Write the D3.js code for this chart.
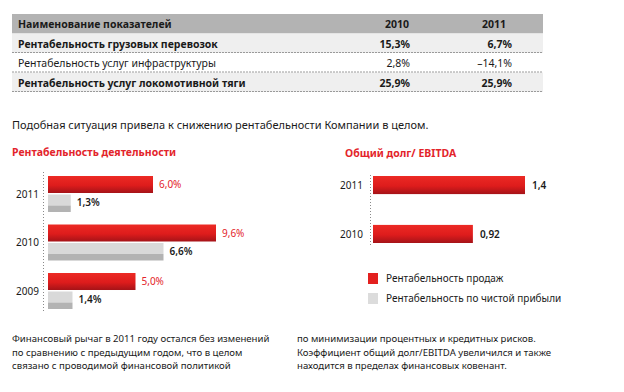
<!DOCTYPE html>
<html>
<head>
<meta charset="utf-8">
<script src="https://cdn.jsdelivr.net/npm/d3@7"></script>
<style>
  body { margin: 0; background: #fff; }
  svg { display: block; font-family: "Noto Sans", "Open Sans", sans-serif; }
</style>
</head>
<body>
<div id="chart"></div>
<script>
// table data
var tableHead = ["Наименование показателей", "2010", "2011"];
var tableRows = ["Рентабельность грузовых перевозок", "Рентабельность услуг инфраструктуры", "Рентабельность услуг локомотивной тяги"];
var table2010 = [15.3, 2.8, 25.9];
var table2011 = [6.7, -14.1, 25.9];

// left chart
var years = ["2011", "2010", "2009"];
var salesMargin = [6.0, 9.6, 5.0];
var netMargin = [1.3, 6.6, 1.4];

// right chart
var debtYears = ["2011", "2010"];
var debtEbitda = [1.4, 0.92];

var legendLabels = ["Рентабельность продаж", "Рентабельность по чистой прибыли"];

var ru = d3.formatLocale({decimal: ",", thousands: " ", grouping: [3], currency: ["", ""], minus: "–"});
var pct = function(v) { return ru.format(".1f")(v) + "%"; };

var svg = d3.select("#chart").append("svg")
  .attr("width", 624).attr("height", 392);

var defs = svg.append("defs");
var grad = defs.append("linearGradient").attr("id", "redbar")
  .attr("x1", 0).attr("y1", 0).attr("x2", 0).attr("y2", 1);
grad.append("stop").attr("offset", "0%").attr("stop-color", "#ec2a24");
grad.append("stop").attr("offset", "55%").attr("stop-color", "#de1c1c");
grad.append("stop").attr("offset", "100%").attr("stop-color", "#a51318");

// ---- table ----
var tbl = svg.append("g");
var rowY = d3.scaleBand().domain(d3.range(4)).range([14, 92]);
tbl.selectAll(".bg").data(d3.range(4)).enter().append("rect")
  .attr("x", 12).attr("width", 531)
  .attr("y", function(d) { return rowY(d); })
  .attr("height", rowY.bandwidth())
  .attr("fill", function(d) { return d == 0 ? "#b3b3b3" : (d % 2 ? "#efefef" : "#fff"); });
tbl.selectAll(".sep").data([1, 2, 3]).enter().append("line")
  .attr("x1", 12).attr("x2", 543)
  .attr("y1", function(d) { return rowY(d) + rowY.bandwidth() - 0.5; })
  .attr("y2", function(d) { return rowY(d) + rowY.bandwidth() - 0.5; })
  .attr("stroke", "#9a9a9a").attr("stroke-dasharray", "2,1");

tbl.append("text").attr("x", 18).attr("y", rowY(0) + 14)
  .attr("font-size", 10.5).attr("font-weight", "bold").attr("fill", "#1a1a1a")
  .text(tableHead[0]);
tbl.append("text").attr("x", 409).attr("y", rowY(0) + 14).attr("text-anchor", "end")
  .attr("font-size", 10.5).attr("font-weight", "bold").attr("fill", "#1a1a1a")
  .text(tableHead[1]);
tbl.append("text").attr("x", 506).attr("y", rowY(0) + 14).attr("text-anchor", "end")
  .attr("font-size", 10.5).attr("font-weight", "bold").attr("fill", "#1a1a1a")
  .text(tableHead[2]);

var rows = tbl.selectAll(".row").data(tableRows).enter().append("g")
  .attr("transform", function(d, i) { return "translate(0," + (rowY(i + 1) + 14) + ")"; })
  .attr("font-size", 10.5).attr("fill", "#1a1a1a")
  .attr("font-weight", function(d, i) { return i == 1 ? "normal" : "bold"; });
rows.append("text").attr("x", 18).text(function(d) { return d; });
rows.append("text").attr("x", 410).attr("text-anchor", "end")
  .text(function(d, i) { return pct(table2010[i]); });
rows.append("text").attr("x", 512).attr("text-anchor", "end")
  .text(function(d, i) { return pct(table2011[i]); });

svg.append("text").attr("x", 12).attr("y", 129)
  .attr("font-size", 11).attr("fill", "#1a1a1a")
  .text("Подобная ситуация привела к снижению рентабельности Компании в целом.");

// ---- left chart ----
var left = svg.append("g");
left.append("text").attr("x", 12).attr("y", 156)
  .attr("font-size", 10.5).attr("font-weight", "bold").attr("fill", "#e3242b")
  .text("Рентабельность деятельности");

var x1 = d3.scaleLinear().domain([0, 9.6]).range([48, 216]);
var y1 = d3.scaleBand().domain(years).range([176, 309]).paddingInner(0.258);

left.append("line").attr("x1", 43.5).attr("x2", 43.5).attr("y1", 172).attr("y2", 311)
  .attr("stroke", "#8a8a8a").attr("stroke-dasharray", "1,2");

var grp = left.selectAll(".yr").data(years).enter().append("g")
  .attr("transform", function(d) { return "translate(0," + y1(d) + ")"; });
var bh = y1.bandwidth() / 2;
grp.append("text").attr("x", 16).attr("y", y1.bandwidth() / 2 + 4)
  .attr("font-size", 10).attr("fill", "#1a1a1a").text(function(d) { return d; });
grp.append("rect").attr("x", x1(0)).attr("y", 0)
  .attr("width", function(d, i) { return x1(salesMargin[i]) - x1(0); })
  .attr("height", bh - 1).attr("fill", "url(#redbar)");
grp.append("rect").attr("x", x1(0)).attr("y", bh + 0.5)
  .attr("width", function(d, i) { return x1(netMargin[i]) - x1(0); })
  .attr("height", 11).attr("fill", "#d9d9d9");
grp.append("rect").attr("x", x1(0)).attr("y", bh + 11.5)
  .attr("width", function(d, i) { return x1(netMargin[i]) - x1(0); })
  .attr("height", bh - 11.5).attr("fill", "#b3b3b3");
grp.append("text").attr("x", function(d, i) { return x1(salesMargin[i]) + 6; })
  .attr("y", bh / 2 + 3.5).attr("font-size", 10).attr("fill", "#e3242b")
  .text(function(d, i) { return pct(salesMargin[i]); });
grp.append("text").attr("x", function(d, i) { return x1(netMargin[i]) + 6; })
  .attr("y", bh + bh / 2 + 3.5).attr("font-size", 10).attr("font-weight", 600).attr("fill", "#1a1a1a")
  .text(function(d, i) { return pct(netMargin[i]); });

// ---- right chart ----
var right = svg.append("g");
right.append("text").attr("x", 345).attr("y", 157)
  .attr("font-size", 10.5).attr("font-weight", "bold").attr("fill", "#e3242b")
  .text("Общий долг/ EBITDA");

var x2 = d3.scaleLinear().domain([0, 1.4]).range([373, 525]);
var y2 = d3.scaleBand().domain(debtYears).range([176, 243]).paddingInner(0.63);

right.append("line").attr("x1", 370.5).attr("x2", 370.5).attr("y1", 175).attr("y2", 245)
  .attr("stroke", "#8a8a8a").attr("stroke-dasharray", "1,2");

var dg = right.selectAll(".yr").data(debtYears).enter().append("g")
  .attr("transform", function(d) { return "translate(0," + y2(d) + ")"; });
dg.append("text").attr("x", 340).attr("y", y2.bandwidth() / 2 + 4)
  .attr("font-size", 10).attr("fill", "#1a1a1a").text(function(d) { return d; });
dg.append("rect").attr("x", x2(0)).attr("y", 0)
  .attr("width", function(d, i) { return x2(debtEbitda[i]) - x2(0); })
  .attr("height", y2.bandwidth()).attr("fill", "url(#redbar)");
dg.append("text").attr("x", function(d, i) { return x2(debtEbitda[i]) + 7; })
  .attr("y", y2.bandwidth() / 2 + 4).attr("font-size", 10).attr("font-weight", 600).attr("fill", "#1a1a1a")
  .text(function(d, i) { return ru.format(",")(debtEbitda[i]); });

// legend
var lg = right.selectAll(".lg").data(legendLabels).enter().append("g")
  .attr("transform", function(d, i) { return "translate(368," + (273 + i * 20) + ")"; });
lg.append("rect").attr("width", 10).attr("height", 11)
  .attr("fill", function(d, i) { return i == 0 ? "#e3201f" : "#dcdcdc"; });
lg.append("text").attr("x", 18).attr("y", 9).attr("font-size", 10).attr("fill", "#1a1a1a")
  .text(function(d) { return d; });

// ---- bottom text ----
var col1 = ["Финансовый рычаг в 2011 году остался без изменений",
  "по сравнению с предыдущим годом, что в целом",
  "связано с проводимой финансовой политикой"];
var col2 = ["по минимизации процентных и кредитных рисков.",
  "Коэффициент общий долг/EBITDA увеличился и также",
  "находится в пределах финансовых ковенант."];
[[12, col1], [297, col2]].forEach(function(c) {
  svg.append("g").selectAll("text").data(c[1]).enter().append("text")
    .attr("x", c[0]).attr("y", function(d, i) { return 342 + i * 13.5; })
    .attr("font-size", 9.6).attr("fill", "#1a1a1a")
    .text(function(d) { return d; });
});
</script>
</body>
</html>
